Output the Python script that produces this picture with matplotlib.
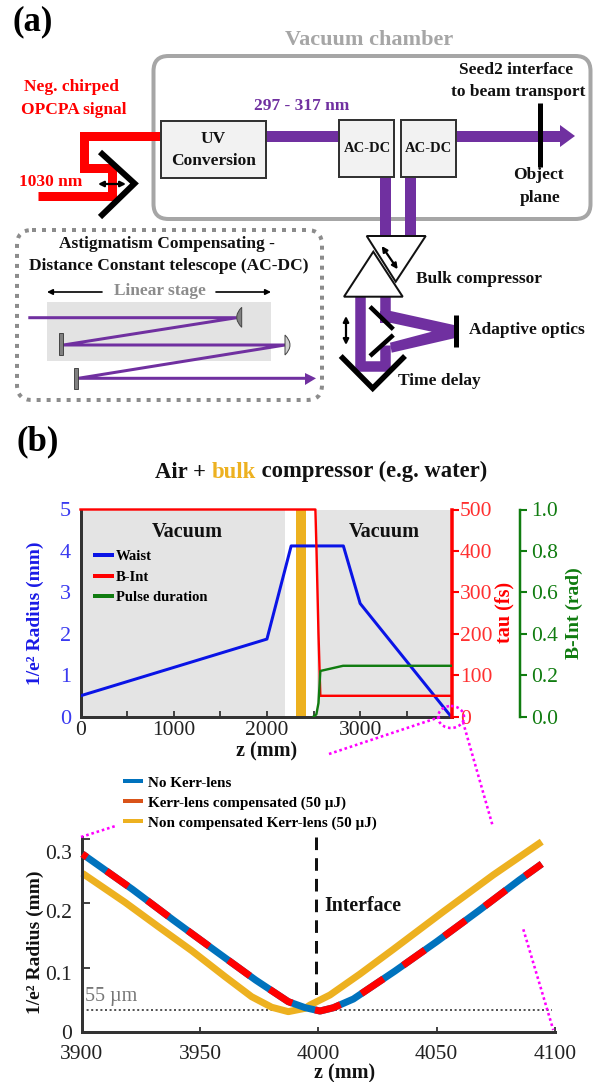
import matplotlib
matplotlib.use("Agg")
import matplotlib.pyplot as plt
from matplotlib.lines import Line2D
from matplotlib.patches import FancyBboxPatch, Rectangle, Polygon, Ellipse, PathPatch
from matplotlib.path import Path
from matplotlib.transforms import ScaledTranslation

plt.rcParams['font.family'] = ['Liberation Serif', 'DejaVu Serif']

# ---- data: panel (b), overview
waist_z = [0, 2000, 2260, 2820, 3000, 3975]
waist_mm = [0.5, 1.87, 4.12, 4.12, 2.73, 0.0]
tau_z = [0, 2520, 2532, 2553, 2573, 3980]
tau_fs = [500, 500, 400, 200, 50, 50]
bint_z = [2500, 2530, 2553, 2573, 2817, 3980]
bint_rad = [0.0, 0.01, 0.065, 0.22, 0.245, 0.245]
vacuum_spans = [(0, 2195), (2532, 3980)]
bulk_span = (2317, 2419)

# ---- data: panel (b), zoom near the interface
nokerr_z = [3900.3, 3921.4, 3938.7, 3956, 3973.5, 3987.3, 3994.4, 4000.7, 4006.3, 4014.8, 4032.4, 4050, 4067.6, 4084.9, 4094.4]
nokerr_r = [0.2764, 0.2217, 0.174, 0.1276, 0.081, 0.0475, 0.0382, 0.033, 0.038, 0.0516, 0.095, 0.1405, 0.188, 0.236, 0.261]
comp_z = [3900.3, 3921.4, 3938.7, 3956, 3973.5, 3987.3, 3994.4, 4000.7, 4006.3, 4014.8, 4032.4, 4050, 4067.6, 4084.9, 4094.4]
comp_r = [0.2764, 0.2217, 0.174, 0.1276, 0.081, 0.0475, 0.0382, 0.033, 0.038, 0.0516, 0.095, 0.1405, 0.188, 0.236, 0.261]
noncomp_z = [3900.3, 3918.3, 3932.4, 3946.5, 3960.6, 3971.8, 3980.3, 3987.3, 3994.4, 3996.5, 4004.9, 4017.6, 4031.7, 4052.8, 4073.9, 4094.4]
noncomp_r = [0.2465, 0.2015, 0.1637, 0.1265, 0.0862, 0.0552, 0.0388, 0.032, 0.0372, 0.0423, 0.0578, 0.0904, 0.1287, 0.187, 0.2439, 0.2955]
interface_z = [3999, 3999]
interface_r = [0.3023, 0.053]
waist_55um = 0.0341

W, H = 594, 1082
PURPLE = '#7030a0'
GRAY = '#a6a6a6'
DARK = '#333333'


def px(v):
    return v * 0.72


def axes_px(x0, y0, x1, y1, **kw):
    return fig.add_axes([x0 / W, 1 - y1 / H, (x1 - x0) / W, (y1 - y0) / H], **kw)


fig = plt.figure(figsize=(W / 100, H / 100), dpi=100)

# ---------- overview axes
ax = axes_px(80.5, 509.5, 451.5, 716.5)
ax2 = ax.twinx()
ax3 = ax.twinx()
ax.set_xlim(0, 3980)
ax.set_ylim(0, 5)
ax2.set_ylim(0, 500)
ax3.set_ylim(0, 1)
for s in vacuum_spans:
    ax.axvspan(s[0], s[1], color='#e4e4e4', lw=0, zorder=0)
ax.axvspan(bulk_span[0], bulk_span[1], color='#edb120', lw=0, zorder=1)
ax.plot(waist_z, waist_mm, color='#0a14e6', lw=px(3), zorder=3)
ax2.plot(tau_z, tau_fs, color='#ff0000', lw=px(2.4), clip_on=False)
ax3.plot(bint_z, bint_rad, color='#107c10', lw=px(2.4))
ax.text(1150, 4.46, 'Vacuum', ha='center', va='center', fontsize=14.5, fontweight='bold', color='#111111')
ax.text(3264, 4.46, 'Vacuum', ha='center', va='center', fontsize=14.5, fontweight='bold', color='#111111')
ax.set_xticks([0, 500, 1000, 1500, 2000, 2500, 3000, 3500])
ax.set_xticklabels(['0', '', '1000', '', '2000', '', '3000', ''])
ax.set_yticks([0, 1, 2, 3, 4, 5])
ax2.set_yticks([0, 100, 200, 300, 400, 500])
ax3.set_yticks([0, .2, .4, .6, .8, 1.0])
ax3.set_yticklabels(['0.0', '0.2', '0.4', '0.6', '0.8', '1.0'])
ax.tick_params(axis='x', direction='in', length=4, width=1.3, color=DARK, labelsize=15.5, labelcolor='#222222', pad=3)
ax.tick_params(axis='y', length=0, labelsize=16, labelcolor='#3a3af0', pad=7)
ax2.tick_params(axis='y', direction='out', length=5, width=1.5, color='#ff0000', labelcolor='#ff3030', labelsize=15.5, pad=1)
ax3.tick_params(axis='y', direction='out', length=5, width=1.5, color='#107c10', labelcolor='#107c10', labelsize=15.5, pad=3)
for a in (ax, ax2, ax3):
    a.spines['top'].set_visible(False)
    a.patch.set_visible(False)
for a in (ax2, ax3):
    a.spines['left'].set_visible(False)
    a.spines['bottom'].set_visible(False)
ax.spines['right'].set_visible(False)
ax.spines['left'].set_linewidth(px(3))
ax.spines['left'].set_color(DARK)
ax.spines['bottom'].set_linewidth(px(3))
ax.spines['bottom'].set_color(DARK)
ax2.spines['right'].set_color('#ff0000')
ax2.spines['right'].set_linewidth(px(3.5))
ax3.spines['right'].set_position(('axes', 1.1846))
ax3.spines['right'].set_color('#107c10')
ax3.spines['right'].set_linewidth(px(2.5))

# ---------- zoom axes
bx = axes_px(81.7, 837.3, 555, 1032.3)
bx.set_xlim(3900, 4100)
bx.set_ylim(0, 0.3023)
bx.plot([3900, 4098.6], [waist_55um, waist_55um], color='#555555', lw=px(2), ls=(0, (1, 1.3)), zorder=1)
bx.plot(interface_z, interface_r, color='#111111', lw=px(3), ls=(0, (4.2, 2.7)), dash_capstyle='butt', zorder=1.5)
bx.plot(noncomp_z, noncomp_r, color='#edb120', lw=px(7), solid_capstyle='butt', zorder=2, clip_on=False)
bx.plot(nokerr_z, nokerr_r, color='#0072bd', lw=px(7), solid_capstyle='butt', zorder=3, clip_on=False)
bx.plot(comp_z, comp_r, color='#ff0000', lw=px(7), ls=(3, (3.8, 3.4)), dash_capstyle='butt', zorder=4, clip_on=False)
bx.text(4002.5, 0.196, 'Interface', ha='left', va='center', fontsize=14.3, fontweight='bold', color='#111111')
bx.text(3901.4, 0.055, '55 µm', ha='left', va='center', fontsize=14.5, color='#777777')
bx.set_xticks([3900, 3950, 4000, 4050, 4100])
bx.set_yticks([0, 0.1, 0.2, 0.3])
bx.set_yticklabels(['0', '0.1', '0.2', '0.3'])
bx.tick_params(axis='both', direction='in', width=1.3, color=DARK, labelsize=15.5, labelcolor='#222222')
bx.tick_params(axis='x', pad=9, length=px(5))
bx.tick_params(axis='y', pad=7, length=px(8))
for lab, drop in zip(bx.get_yticklabels(), [0, 5, 8, 13]):
    lab.set_transform(lab.get_transform() + ScaledTranslation(0, -drop / 100, fig.dpi_scale_trans))
bx.spines['top'].set_visible(False)
bx.spines['right'].set_visible(False)
bx.spines['left'].set_linewidth(px(3))
bx.spines['bottom'].set_linewidth(px(3))
bx.spines['left'].set_color(DARK)
bx.spines['bottom'].set_color(DARK)

# ---------- overlay in pixel coordinates
ov = fig.add_axes([0, 0, 1, 1], zorder=20)
ov.set_xlim(0, W)
ov.set_ylim(H, 0)
ov.axis('off')
ov.patch.set_visible(False)


def T(x, y, s, size=12.5, color='#111111', weight='bold', rot=0, ha='center'):
    return ov.text(x, y, s, fontsize=size, color=color, fontweight=weight, rotation=rot, ha=ha, va='center', zorder=10)


def L(xs, ys, color='k', w=3, z=3, cap='butt', join='miter'):
    ov.plot(xs, ys, color=color, lw=px(w), zorder=z, solid_capstyle=cap, solid_joinstyle=join)


def DA(x0, y0, x1, y1, w=1.6, size=8, style='<|-|>', color='k'):
    ov.annotate('', xy=(x1, y1), xytext=(x0, y0),
                arrowprops=dict(arrowstyle=style, color=color, lw=w, shrinkA=0, shrinkB=0, mutation_scale=size), zorder=6)


def BOX(x0, y0, x1, y1):
    ov.add_patch(Rectangle((x0, y0), x1 - x0, y1 - y0, fc='#f2f2f2', ec=DARK, lw=px(2), zorder=4))


def MIRROR(x_flat, x_bulge, y0, y1, fc):
    ym = (y0 + y1) / 2
    ctrl = x_bulge + (x_bulge - x_flat)
    p = Path([(x_flat, y0), (ctrl, ym), (x_flat, y1), (x_flat, y0)],
             [Path.MOVETO, Path.CURVE3, Path.CURVE3, Path.CLOSEPOLY])
    ov.add_patch(PathPatch(p, fc=fc, ec='#444444', lw=0.7, zorder=4))


T(13, 22, '(a)', 25, ha='left', color='k')
T(17, 442, '(b)', 25, ha='left', color='k')

# chamber
ov.add_patch(FancyBboxPatch((153.5, 56), 437, 163, boxstyle='round,pad=0,rounding_size=15',
                            fc='none', ec=GRAY, lw=px(4), zorder=1))
T(369, 40, 'Vacuum chamber', 16, GRAY)
T(516, 70, 'Seed2 interface', 12.5)
T(518, 92, 'to beam transport', 12.5)
T(72, 87, 'Neg. chirped', 12.5, '#ff0000')
T(74, 110, 'OPCPA signal', 12.5, '#ff0000')
T(302, 106, '297 - 317 nm', 12.5, PURPLE)
T(51, 182, '1030 nm', 12.5, '#ff0000')

# beams
L([161, 83.5, 83.5, 112, 112, 38], [136, 136, 168, 168, 196, 196], '#ff0000', 9, 2)
L([266, 339], [136, 136], PURPLE, 11, 2)
L([456, 562], [136, 136], PURPLE, 11, 2)
ov.add_patch(Polygon([[560, 125], [575, 136], [560, 147]], fc=PURPLE, ec='none', zorder=2))
L([384.5, 384.5], [177, 240], PURPLE, 11, 2)
L([410, 410], [177, 240], PURPLE, 11, 2)
BOX(161, 121, 266, 178)
BOX(339, 120, 394, 177)
BOX(401, 120, 456, 177)
T(213, 139, 'UV', 12.5)
T(214, 161, 'Conversion', 12.5)
T(367, 148, 'AC-DC', 10.5)
T(428, 148, 'AC-DC', 10.5)
L([539.5, 539.5], [103, 167], 'k', 5, 5)
T(538, 175, 'Object', 12.5)
T(540, 198, 'plane', 12.5)
L([100, 134.5, 100], [152, 183.5, 217], 'k', 6, 5)
DA(98, 184, 126, 184)

# compressor and delay
L([360, 360, 385.3, 385.3], [290, 366, 366, 345], PURPLE, 10.5, 2)
L([385.3, 385.3], [290, 318], PURPLE, 10.5, 2)
ov.add_patch(Polygon([[390.7, 311], [454, 325], [454, 338.3], [391.7, 352.7], [390, 342.7],
                      [431.7, 331.7], [390, 322.7]], fc=PURPLE, ec='none', zorder=2))
ov.add_patch(Rectangle((380, 311), 11, 12, fc=PURPLE, ec='none', zorder=2))
ov.add_patch(Polygon([[366.7, 236], [425.7, 236], [395.7, 281.7]], fc='white', ec='#111111', lw=px(2), zorder=4))
ov.add_patch(Polygon([[344, 296.7], [402.7, 296.7], [373.3, 251.7]], fc='white', ec='#111111', lw=px(2), zorder=4))
DA(381.7, 246, 397.7, 269.3)
T(479, 279, 'Bulk compressor', 12.5)
L([370, 393.3], [306.7, 329.3], 'k', 4.5, 5)
L([393.3, 370], [335, 356], 'k', 4.5, 5)
L([340.7, 372.7, 405], [356, 388.3, 356], 'k', 5.5, 5)
L([456, 456], [315, 346.7], 'k', 5, 5)
DA(346, 316, 346, 345)
T(527, 330, 'Adaptive optics', 12.5)
T(439, 381, 'Time delay', 12.5)

# AC-DC inset
ov.add_patch(FancyBboxPatch((17, 230), 305, 170, boxstyle='round,pad=0,rounding_size=15',
                            fc='none', ec='#8c8c8c', lw=px(4), ls=(0, (1, 1.5)), zorder=1))
T(167, 244, 'Astigmatism Compensating -', 12.5)
T(169, 266, 'Distance Constant telescope (AC-DC)', 12.5)
T(160, 291, 'Linear stage', 12.5, '#8c8c8c')
DA(102, 292, 47, 292, style='-|>', w=1.2)
DA(216, 292, 271, 292, style='-|>', w=1.2)
ov.add_patch(Rectangle((47.3, 302.3), 223.4, 58.4, fc='#e3e3e3', ec='none', zorder=1))
L([28.3, 236.7, 63.3, 285, 78.3, 306], [317.7, 317.7, 345, 345, 378.3, 378.3], PURPLE, 3, 3)
ov.add_patch(Polygon([[305, 373], [316, 378.3], [305, 385]], fc=PURPLE, ec='none', zorder=3))
MIRROR(241.7, 236.7, 307.3, 327.3, '#808080')
MIRROR(285, 290, 335, 355, '#d0d0d0')
ov.add_patch(Rectangle((58.7, 333.3), 4.6, 21.7, fc='#808080', ec='#333333', lw=0.6, zorder=4))
ov.add_patch(Rectangle((74, 367.7), 4.3, 21.6, fc='#808080', ec='#333333', lw=0.6, zorder=4))

# title in three colours
t1 = ov.text(155, 472, 'Air + ', fontsize=16.3, fontweight='bold', color='#111111', va='center')
t2 = ov.annotate('bulk', xy=(1, 0), xycoords=t1, xytext=(0, 0), textcoords='offset points',
                 fontsize=16.3, fontweight='bold', color='#edb120', va='bottom')
t3 = ov.annotate(' compressor (e.g. water)', xy=(1, 0), xycoords=t2, xytext=(0, 0), textcoords='offset points',
                 fontsize=16.3, fontweight='bold', color='#111111', va='bottom')

# axis labels
T(35, 613, '1/e² Radius (mm)', 14, '#1a1ae6', rot=90)
T(504, 612, 'tau (fs)', 14.5, '#ff0000', rot=90)
T(574, 613, 'B-Int (rad)', 14, '#107c10', rot=90)
T(267, 751, 'z (mm)', 14.5)
T(35, 942, '1/e² Radius (mm)', 14, '#111111', rot=90)
T(345, 1073, 'z (mm)', 14.5)

# magnifier guides
MAG = dict(color='#ff00ff', lw=px(2.6), ls=(0, (1, 1.1)), zorder=8)
ov.add_patch(Ellipse((451, 717), 26, 22, fc='none', ec='#ff00ff', lw=px(2.6), ls=(0, (1, 1.1)), zorder=8))
ov.plot([329, 440], [754, 717], **MAG)
ov.plot([463, 493], [722, 827], **MAG)
ov.plot([81, 115.5], [837, 826], **MAG)
ov.plot([523.3, 553.3], [929.3, 1030], **MAG)

# legends
leg1 = ov.legend(handles=[Line2D([], [], color='#0a14e6', lw=px(4)),
                          Line2D([], [], color='#ff0000', lw=px(4)),
                          Line2D([], [], color='#107c10', lw=px(4))],
                 labels=['Waist', 'B-Int', 'Pulse duration'],
                 loc='center left', bbox_to_anchor=(95, 577), bbox_transform=ov.transData, frameon=False,
                 prop=dict(size=10.5, weight='bold'), handlelength=1.17, handletextpad=0.24, labelspacing=0.5,
                 borderpad=0, borderaxespad=0)
ov.add_artist(leg1)
ov.legend(handles=[Line2D([], [], color='#0072bd', lw=px(4)),
                   Line2D([], [], color='#d95319', lw=px(4)),
                   Line2D([], [], color='#edb120', lw=px(4))],
          labels=['No Kerr-lens', 'Kerr-lens compensated (50 µJ)', 'Non compensated Kerr-lens (50 µJ)'],
          loc='center left', bbox_to_anchor=(125, 803), bbox_transform=ov.transData, frameon=False,
          prop=dict(size=10.9, weight='bold'), handlelength=1.05, handletextpad=0.45, labelspacing=0.42,
          borderpad=0, borderaxespad=0)

fig.savefig('out.png', dpi=100, facecolor='white')
